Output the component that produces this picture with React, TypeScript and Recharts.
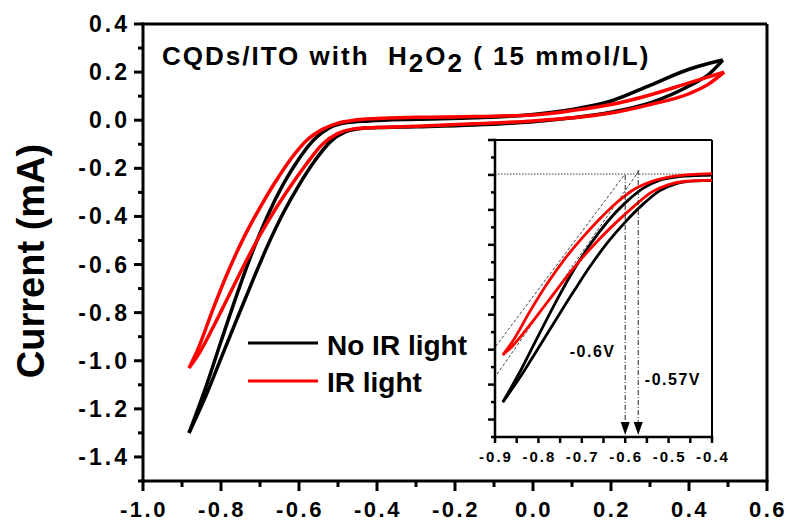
import React from "react";
import {
  LineChart,
  Line,
  XAxis,
  YAxis,
  ReferenceLine,
  ReferenceDot,
  Legend,
  Customized,
} from "recharts";

// CV loops, potential (V) vs current (mA); upper = outer branch, lower = inner branch
const noIrUpperV = [-0.882, -0.84, -0.8, -0.76, -0.72, -0.68, -0.64, -0.6, -0.56, -0.52, -0.48, -0.42, -0.3, -0.15, 0.0, 0.1, 0.2, 0.3, 0.4, 0.45, 0.487];
const noIrUpperI = [-1.3, -1.115, -0.92, -0.728, -0.55, -0.395, -0.265, -0.16, -0.078, -0.03, -0.011, -0.003, 0.004, 0.01, 0.024, 0.045, 0.08, 0.145, 0.212, 0.236, 0.25];
const noIrLowerV = [-0.882, -0.84, -0.8, -0.76, -0.72, -0.68, -0.64, -0.6, -0.56, -0.52, -0.48, -0.44, -0.38, -0.3, -0.15, 0.0, 0.1, 0.2, 0.3, 0.4, 0.45, 0.487];
const noIrLowerI = [-1.3, -1.15, -0.99, -0.83, -0.672, -0.52, -0.385, -0.27, -0.17, -0.09, -0.048, -0.034, -0.03, -0.027, -0.02, -0.006, 0.01, 0.033, 0.072, 0.142, 0.19, 0.25];

const irUpperV = [-0.882, -0.86, -0.82, -0.78, -0.74, -0.7, -0.66, -0.62, -0.58, -0.54, -0.5, -0.46, -0.4, -0.3, -0.15, 0.0, 0.1, 0.2, 0.3, 0.4, 0.45, 0.49];
const irUpperI = [-1.03, -0.955, -0.783, -0.623, -0.483, -0.363, -0.255, -0.159, -0.083, -0.038, -0.012, 0.0, 0.007, 0.012, 0.015, 0.022, 0.04, 0.065, 0.105, 0.155, 0.18, 0.2];
const irLowerV = [-0.882, -0.86, -0.82, -0.78, -0.74, -0.7, -0.66, -0.62, -0.58, -0.54, -0.5, -0.46, -0.4, -0.3, -0.15, 0.0, 0.1, 0.2, 0.3, 0.4, 0.45, 0.49];
const irLowerI = [-1.03, -0.98, -0.86, -0.73, -0.6, -0.478, -0.368, -0.27, -0.18, -0.1, -0.055, -0.036, -0.03, -0.025, -0.015, -0.003, 0.01, 0.03, 0.065, 0.11, 0.15, 0.2];

const mainXTicks = [-1.0, -0.9, -0.8, -0.7, -0.6, -0.5, -0.4, -0.3, -0.2, -0.1, 0.0, 0.1, 0.2, 0.3, 0.4, 0.5, 0.6];
const mainYTicks = [-1.5, -1.4, -1.3, -1.2, -1.1, -1.0, -0.9, -0.8, -0.7, -0.6, -0.5, -0.4, -0.3, -0.2, -0.1, 0.0, 0.1, 0.2, 0.3, 0.4];
const insetXTicks = [-0.9, -0.85, -0.8, -0.75, -0.7, -0.65, -0.6, -0.55, -0.5, -0.45, -0.4];
const insetYTicks = [-1.5, -1.4, -1.3, -1.2, -1.1, -1.0, -0.9, -0.8, -0.7, -0.6, -0.5, -0.4, -0.3, -0.2, -0.1, 0.0, 0.1, 0.2];

// onset potentials from the tangent construction in the inset
const onsetLevel = 0.005;
const onsetV = [-0.6, -0.57];
const onsetTopI = [0.0, 0.028];
const onsetLabels = ["-0.6V", "-0.57V"];
const onsetLabelV = [-0.675, -0.49];
const onsetLabelI = [-1.01, -1.17];
const tangentA = [{ x: -0.898, y: -0.98 }, { x: -0.602, y: 0.0 }];
const tangentB = [{ x: -0.895, y: -1.14 }, { x: -0.567, y: 0.028 }];

const seriesNames = ["No IR light", "IR light"];
const seriesColors = ["#000000", "#ff0000"];

const toPts = (v: number[], i: number[]) => v.map((x, k) => ({ v: x, i: i[k] }));
const noIrUpper = toPts(noIrUpperV, noIrUpperI);
const noIrLower = toPts(noIrLowerV, noIrLowerI);
const irUpper = toPts(irUpperV, irUpperI);
const irLower = toPts(irLowerV, irLowerI);

const FONT = "'Liberation Sans', Arial, sans-serif";
const isMajor = (v: number, step: number) => Math.abs(Math.round(v / step)) % 2 === 0;

const MainXTick = (props: any) => {
  const { x, y, payload } = props;
  const major = isMajor(payload.value, 0.1);
  return (
    <g>
      <line x1={x} y1={y} x2={x} y2={y + (major ? 10 : 6)} stroke="#000" strokeWidth={3} />
      {major && (
        <text x={x + 1} y={y + 36} textAnchor="middle" fontSize={22} fontWeight="bold" letterSpacing={2.5} fontFamily={FONT} fill="#000">
          {payload.value.toFixed(1)}
        </text>
      )}
    </g>
  );
};

const MainYTick = (props: any) => {
  const { x, y, payload } = props;
  const major = isMajor(payload.value, 0.1);
  return (
    <g>
      <line x1={x} y1={y} x2={x - (major ? 9 : 5)} y2={y} stroke="#000" strokeWidth={3} />
      {major && (
        <text x={x - 13} y={y + 8} textAnchor="end" fontSize={23} fontWeight="bold" letterSpacing={3} fontFamily={FONT} fill="#000">
          {payload.value.toFixed(1)}
        </text>
      )}
    </g>
  );
};

const InsetXTick = (props: any) => {
  const { x, y, payload } = props;
  const major = isMajor(payload.value, 0.05);
  return (
    <g>
      <line x1={x} y1={y} x2={x} y2={y + 6} stroke="#000" strokeWidth={2.5} />
      {major && (
        <text x={x + 1} y={y + 25} textAnchor="middle" fontSize={15} fontWeight="bold" letterSpacing={2} fontFamily={FONT} fill="#000">
          {payload.value.toFixed(1)}
        </text>
      )}
    </g>
  );
};

const InsetYTick = (props: any) => {
  const { x, y, payload } = props;
  const major = isMajor(payload.value, 0.1);
  return <line x1={x} y1={y} x2={x - (major ? 7 : 4)} y2={y} stroke="#000" strokeWidth={2.5} />;
};

const ArrowDown = (p: any) => {
  const { x1, y1, y2 } = p;
  const top = Math.min(y1, y2);
  const bottom = Math.max(y1, y2) - 2;
  return (
    <g>
      <line x1={x1} y1={top} x2={x1} y2={bottom - 10} stroke="#222" strokeWidth={1} strokeDasharray="5 2 1 2" />
      <polygon points={`${x1 - 4.5},${bottom - 13} ${x1 + 4.5},${bottom - 13} ${x1},${bottom}`} fill="#000" />
    </g>
  );
};

const Texts = () => (
  <g fontFamily={FONT} fontWeight="bold" fill="#000">
    <text x={162} y={65} fontSize={26} letterSpacing={2} style={{ whiteSpace: "pre" }}>
      {"CQDs/ITO with  H"}
      <tspan dy={7}>2</tspan>
      <tspan dy={-7}>O</tspan>
      <tspan dy={7}>2</tspan>
      <tspan dy={-7}>{" ( 15 mmol/L)"}</tspan>
    </text>
    <text transform="translate(44,261) rotate(-90)" textAnchor="middle" fontSize={38}>
      Current (mA)
    </text>
  </g>
);

const LegendBox = () => (
  <svg width={260} height={80} style={{ display: "block" }}>
    {seriesNames.map((name, k) => (
      <g key={name}>
        <line x1={8} x2={78} y1={18 + k * 38} y2={18 + k * 38} stroke={seriesColors[k]} strokeWidth={3} />
        <text x={87} y={30 + k * 37} fontSize={28} fontWeight="bold" fontFamily={FONT} fill="#000">
          {name}
        </text>
      </g>
    ))}
  </svg>
);

const loops = [
  { key: "noIrUp", data: noIrUpper, color: seriesColors[0] },
  { key: "noIrLo", data: noIrLower, color: seriesColors[0] },
  { key: "irUp", data: irUpper, color: seriesColors[1] },
  { key: "irLo", data: irLower, color: seriesColors[1] },
];

export default function App() {
  return (
    <div style={{ position: "absolute", left: 0, top: 0, width: 786, height: 522, background: "#fff", overflow: "hidden" }}>
      <style>{"svg.recharts-surface{overflow:visible}"}</style>
      <LineChart width={786} height={522} margin={{ top: 24, right: 19, left: 0, bottom: 0 }}>
        <XAxis
          type="number"
          dataKey="v"
          domain={[-1.0, 0.6]}
          ticks={mainXTicks}
          interval={0}
          allowDataOverflow
          height={41}
          tickSize={0}
          tickMargin={0}
          tickLine={false}
          axisLine={{ stroke: "#000", strokeWidth: 3, strokeLinecap: "square" }}
          tick={<MainXTick />}
        />
        <YAxis
          type="number"
          domain={[-1.5, 0.4]}
          ticks={mainYTicks}
          interval={0}
          allowDataOverflow
          width={143}
          tickSize={0}
          tickMargin={0}
          tickLine={false}
          axisLine={{ stroke: "#000", strokeWidth: 3, strokeLinecap: "square" }}
          tick={<MainYTick />}
        />
        <ReferenceLine y={0.4} stroke="#000" strokeWidth={3} />
        <ReferenceLine x={0.6} stroke="#000" strokeWidth={3} />
        {loops.map((s) => (
          <Line
            key={s.key}
            data={s.data}
            dataKey="i"
            type="monotone"
            stroke={s.color}
            strokeWidth={3.5}
            dot={false}
            isAnimationActive={false}
          />
        ))}
        <Legend
          layout="vertical"
          verticalAlign="middle"
          align="center"
          wrapperStyle={{ left: 240, top: 325, width: 260, height: 80 }}
          content={() => <LegendBox />}
        />
        <Customized component={<Texts />} />
      </LineChart>

      <div style={{ position: "absolute", left: 475, top: 130 }}>
        <LineChart width={267} height={342} margin={{ top: 10, right: 30, left: 0, bottom: 0 }}>
          <XAxis
            type="number"
            dataKey="v"
            domain={[-0.9, -0.4]}
            ticks={insetXTicks}
            interval={0}
            allowDataOverflow
            height={35}
            tickSize={0}
            tickMargin={0}
            tickLine={false}
            axisLine={{ stroke: "#000", strokeWidth: 2.5, strokeLinecap: "square" }}
            tick={<InsetXTick />}
          />
          <YAxis
            type="number"
            domain={[-1.5, 0.2]}
            ticks={insetYTicks}
            interval={0}
            allowDataOverflow
            width={20}
            tickSize={0}
            tickMargin={0}
            tickLine={false}
            axisLine={{ stroke: "#000", strokeWidth: 2.5, strokeLinecap: "square" }}
            tick={<InsetYTick />}
          />
          <ReferenceLine y={0.2} stroke="#000" strokeWidth={2} />
          <ReferenceLine x={-0.4} stroke="#000" strokeWidth={2} />
          <ReferenceLine y={onsetLevel} stroke="#333" strokeWidth={1} strokeDasharray="1.5 1.5" />
          <ReferenceLine segment={tangentA} stroke="#444" strokeWidth={1} strokeDasharray="3 2" />
          <ReferenceLine segment={tangentB} stroke="#444" strokeWidth={1} strokeDasharray="3 2" />
          {loops.map((s) => (
            <Line
              key={s.key}
              data={s.data}
              dataKey="i"
              type="monotone"
              stroke={s.color}
              strokeWidth={2.8}
              dot={false}
              isAnimationActive={false}
            />
          ))}
          {onsetV.map((v, k) => (
            <ReferenceLine
              key={"arrow" + k}
              segment={[{ x: v, y: onsetTopI[k] }, { x: v, y: -1.5 }]}
              stroke="#222"
              shape={<ArrowDown />}
            />
          ))}
          {onsetLabels.map((lab, k) => (
            <ReferenceDot
              key={lab}
              x={onsetLabelV[k]}
              y={onsetLabelI[k]}
              r={0}
              shape={(p: any) => (
                <text x={p.cx} y={p.cy + 6} textAnchor="middle" fontSize={16} fontWeight="bold" letterSpacing={1.5} fontFamily={FONT} fill="#000">
                  {lab}
                </text>
              )}
            />
          ))}
        </LineChart>
      </div>
    </div>
  );
}
